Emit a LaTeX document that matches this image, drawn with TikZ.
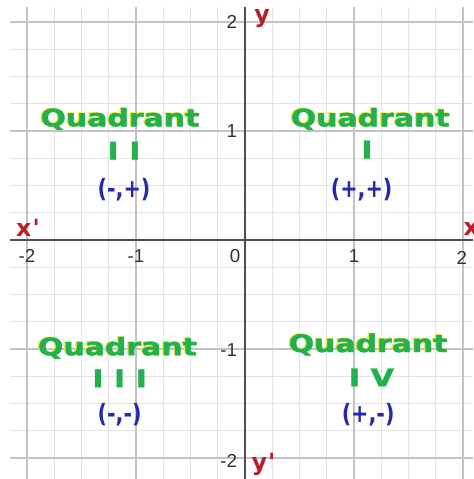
\documentclass[tikz,border=0pt]{standalone}
\usepackage{fontspec}
\setmainfont{DejaVu Sans}
\newfontfamily\tickfont{Liberation Sans}
\newfontfamily\heavyfont[FakeBold=1.6]{DejaVu Sans Bold}
\newfontfamily\redfont{DejaVu Sans Bold}
\definecolor{qgreen}{RGB}{34,177,76}
\definecolor{qyellow}{RGB}{240,230,60}
\definecolor{qblue}{RGB}{38,42,170}
\definecolor{qred}{RGB}{185,30,45}
\definecolor{gminor}{RGB}{228,228,228}
\definecolor{gmajor}{RGB}{195,195,195}
\definecolor{axisc}{RGB}{80,80,80}
\tikzset{
  minorgrid/.style={draw=gminor,line width=0.28pt},
  majorgrid/.style={draw=gmajor,line width=0.32pt},
  axisline/.style={draw=axisc,line width=0.45pt},
  ticklab/.style={font=\tickfont\fontsize{4.9}{5}\selectfont,text=black!80,inner sep=0pt},
  axlab/.style={font=\redfont\fontsize{6.2}{7}\selectfont,text=qred,inner sep=0pt},
  quadtitle/.style={font=\heavyfont\fontsize{6.3}{7}\selectfont,text=qgreen,inner sep=0pt,xscale=1.24},
  quadshadow/.style={font=\heavyfont\fontsize{6.3}{7}\selectfont,text=qyellow,inner sep=0pt,xscale=1.24},
  quadnum/.style={font=\heavyfont\fontsize{6.3}{7}\selectfont,text=qgreen,inner sep=0pt,xscale=1.25},
  signs/.style={font=\bfseries\fontsize{6.6}{7}\selectfont,text=qblue,inner sep=0pt,xscale=0.82},
}
\begin{document}
\begin{tikzpicture}[x=1cm,y=1cm]
\useasboundingbox (-2.248,-2.193) rectangle (2.092,2.202);
\fill[white] (-2.248,-2.193) rectangle (2.092,2.202);
% minor grid
\foreach \i in {-2,-1.75,...,2.01} {
  \draw[minorgrid] (\i,-2.193) -- (\i,2.14);
  \draw[minorgrid] (-2.156,\i) -- (2.092,\i);
}
% major grid
\foreach \i in {-2,-1,1,2} {
  \draw[majorgrid] (\i,-2.193) -- (\i,2.14);
  \draw[majorgrid] (-2.156,\i) -- (2.092,\i);
}
% axes
\coordinate (xl) at (-2.156,0);
\coordinate (xr) at (2.092,0);
\coordinate (yt) at (0,2.14);
\coordinate (yb) at (0,-2.193);
\draw[axisline] (xl) -- (xr);
\draw[axisline] (yt) -- (yb);
% tick labels
\node[ticklab] (tx1) at (-2.0,-0.15) {-2};
\node[ticklab] (tx2) at (-1.0,-0.15) {-1};
\node[ticklab] (tx3) at (-0.09,-0.15) {0};
\node[ticklab] (tx4) at (1.0,-0.15) {1};
\node[ticklab] (tx5) at (1.99,-0.165) {2};
\node[ticklab,anchor=east] (ty1) at (-0.065,2.0) {2};
\node[ticklab,anchor=east] (ty2) at (-0.065,1.0) {1};
\node[ticklab,anchor=east] (ty3) at (-0.065,-1.01) {-1};
\node[ticklab,anchor=east] (ty4) at (-0.065,-2.03) {-2};
% axis names
\node[axlab] (ly) at (0.156,2.03) {y};
\node[axlab] (lyp) at (0.17,-2.06) {y\kern0.3pt'};
\node[axlab] (lxp) at (-1.99,0.11) {x\kern0.3pt'};
\node[axlab] (lx) at (2.075,0.105) {x};
% Quadrant I
\node[quadshadow] (q1s) at (1.150-0.012,1.11+0.006) {Quadrant};
\node[quadtitle] (q1) at (1.150,1.11) {Quadrant};
\node[quadnum] (q1n) at (1.12,0.83) {I};
\node[signs] (q1p) at (1.07,0.46) {(+,+)};
% Quadrant II
\node[quadshadow] (q2s) at (-1.147-0.012,1.11+0.006) {Quadrant};
\node[quadtitle] (q2) at (-1.147,1.11) {Quadrant};
\node[quadnum] (q2n) at (-1.11,0.82) {I I};
\node[signs] (q2p) at (-1.11,0.46) {(-,+)};
% Quadrant III
\node[quadshadow] (q3s) at (-1.17-0.012,-0.99+0.006) {Quadrant};
\node[quadtitle] (q3) at (-1.17,-0.99) {Quadrant};
\node[quadnum] (q3n) at (-1.15,-1.27) {I I I};
\node[signs] (q3p) at (-1.15,-1.60) {(-,-)};
% Quadrant IV
\node[quadshadow] (q4s) at (1.13-0.012,-0.96+0.006) {Quadrant};
\node[quadtitle] (q4) at (1.13,-0.96) {Quadrant};
\node[quadnum] (q4n) at (1.16,-1.26) {I V};
\node[signs] (q4p) at (1.13,-1.60) {(+,-)};
\end{tikzpicture}
\end{document}
